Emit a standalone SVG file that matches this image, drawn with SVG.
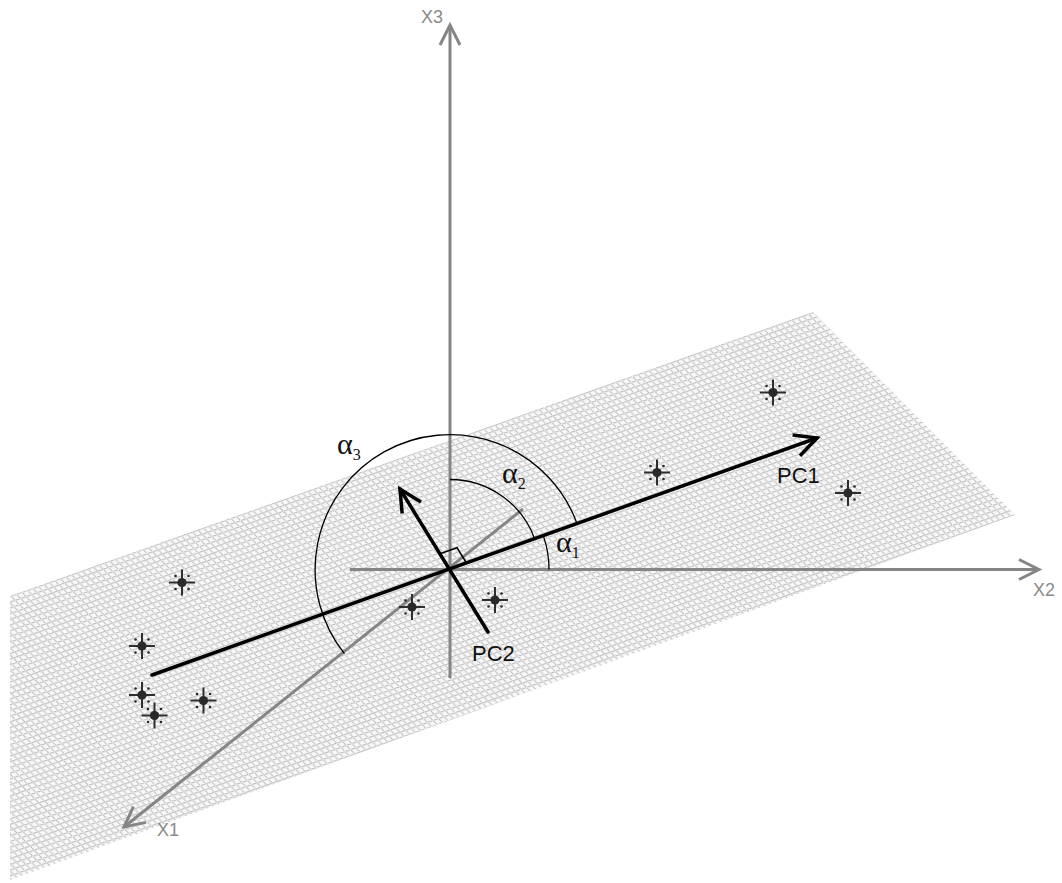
<svg xmlns="http://www.w3.org/2000/svg" width="1062" height="883" viewBox="0 0 1062 883">
<style>
.axis{stroke:#858585;stroke-width:3;fill:none}
.pc{stroke:#000;stroke-width:3.5;fill:none;stroke-linecap:round}
.arc{stroke:#000;stroke-width:1.3;fill:none}
.alab{font-family:"Liberation Serif",serif;font-size:30px;fill:#111}
.sub{font-family:"Liberation Serif",serif;font-size:16px;fill:#111}
.xlab{font-family:"Liberation Sans",Arial,sans-serif;font-size:18px;fill:#8a8a8a}
.plab{font-family:"Liberation Sans",Arial,sans-serif;font-size:22px;fill:#111}
.star line{stroke:#2e2e2e;stroke-width:2}
.star circle{fill:#2a2a2a}
</style>
<defs>
<pattern id="mesh" patternUnits="userSpaceOnUse" width="8" height="8" patternTransform="matrix(5.5 -1.945 4.21 4.21 10 596)">
<path fill="#bdbdbd" d="M0 0h8v0.19h-8zM0 1h8v0.19h-8zM0 2h8v0.19h-8zM0 3h8v0.19h-8zM0 4h8v0.19h-8zM0 5h8v0.19h-8zM0 6h8v0.19h-8zM0 7h8v0.19h-8zM0 0v8h0.19v-8zM1 0v8h0.19v-8zM2 0v8h0.19v-8zM3 0v8h0.19v-8zM4 0v8h0.19v-8zM5 0v8h0.19v-8zM6 0v8h0.19v-8zM7 0v8h0.19v-8z"/>
</pattern>
<marker id="garr" markerUnits="userSpaceOnUse" viewBox="-25 -15 30 30" refX="0" refY="0" markerWidth="30" markerHeight="30" orient="auto" overflow="visible">
<path d="M-20,-10 L0,0 L-20,10" fill="none" stroke="#858585" stroke-width="3"/>
</marker>
<marker id="karr" markerUnits="userSpaceOnUse" viewBox="-25 -15 30 30" refX="0" refY="0" markerWidth="30" markerHeight="30" orient="auto" overflow="visible">
<path d="M-22,-11 L0,0 L-22,11" fill="none" stroke="#000" stroke-width="3.5"/>
</marker>
<g id="starshape" class="star">
<line x1="-13" y1="0" x2="13" y2="0"/>
<line x1="0" y1="-13" x2="0" y2="13"/>
<circle r="4.6"/>
<circle cx="-6.5" cy="-6.5" r="1.3"/>
<circle cx="6.5" cy="-6.5" r="1.3"/>
<circle cx="-6.5" cy="6.5" r="1.3"/>
<circle cx="6.5" cy="6.5" r="1.3"/>
</g>
</defs>
<rect width="1062" height="883" fill="#fff"/>
<g id="plane">
<polygon points="10,596 813,312 1015,515 10,880" fill="#f8f8f8"/>
<polygon points="10,596 813,312 1015,515 10,880" fill="url(#mesh)"/>
</g>
<g id="connectors">
<line id="x3axis" class="axis" x1="450" y1="678" x2="450" y2="25" marker-end="url(#garr)"/>
<line id="x2axis" class="axis" x1="350" y1="569.5" x2="1039" y2="569.5" marker-end="url(#garr)"/>
<line id="x1axis" class="axis" x1="523" y1="509" x2="124" y2="827" marker-end="url(#garr)"/>
</g>
<g id="points">
<use href="#starshape" x="773" y="392.5"/>
<use href="#starshape" x="657" y="472.5"/>
<use href="#starshape" x="848" y="493"/>
<use href="#starshape" x="182" y="582.5"/>
<use href="#starshape" x="142" y="646"/>
<use href="#starshape" x="142" y="695"/>
<use href="#starshape" x="154.5" y="715.5"/>
<use href="#starshape" x="203.5" y="700.5"/>
<use href="#starshape" x="412" y="607"/>
<use href="#starshape" x="495" y="600"/>
</g>
<g id="pcs">
<line id="pc1" class="pc" x1="152" y1="675" x2="817" y2="438" marker-end="url(#karr)"/>
<line id="pc2" class="pc" x1="488" y1="632" x2="400" y2="489" marker-end="url(#karr)"/>
<path id="rightangle" d="M440,553.7 L457,547.7 L466.5,563" fill="none" stroke="#000" stroke-width="1.6"/>
</g>
<g id="angles">
<path class="arc" d="M549,569.5 A100,100 0 0 0 543.2,535.4"/>
<path class="arc" d="M450,479.5 A90,90 0 0 1 534.8,539.2"/>
<path class="arc" d="M577.2,524.1 A135,135 0 1 0 344.4,653.6"/>
</g>
<g id="labels">
<text class="xlab" x="421" y="23">X3</text>
<text class="xlab" x="1033" y="596">X2</text>
<text class="xlab" x="157" y="836">X1</text>
<text class="plab" x="777" y="483">PC1</text>
<text class="plab" x="472" y="661">PC2</text>
<text class="alab" x="337" y="454">α<tspan class="sub" dy="6">3</tspan></text>
<text class="alab" x="502" y="483">α<tspan class="sub" dy="6">2</tspan></text>
<text class="alab" x="556" y="552">α<tspan class="sub" dy="6">1</tspan></text>
</g>
</svg>
